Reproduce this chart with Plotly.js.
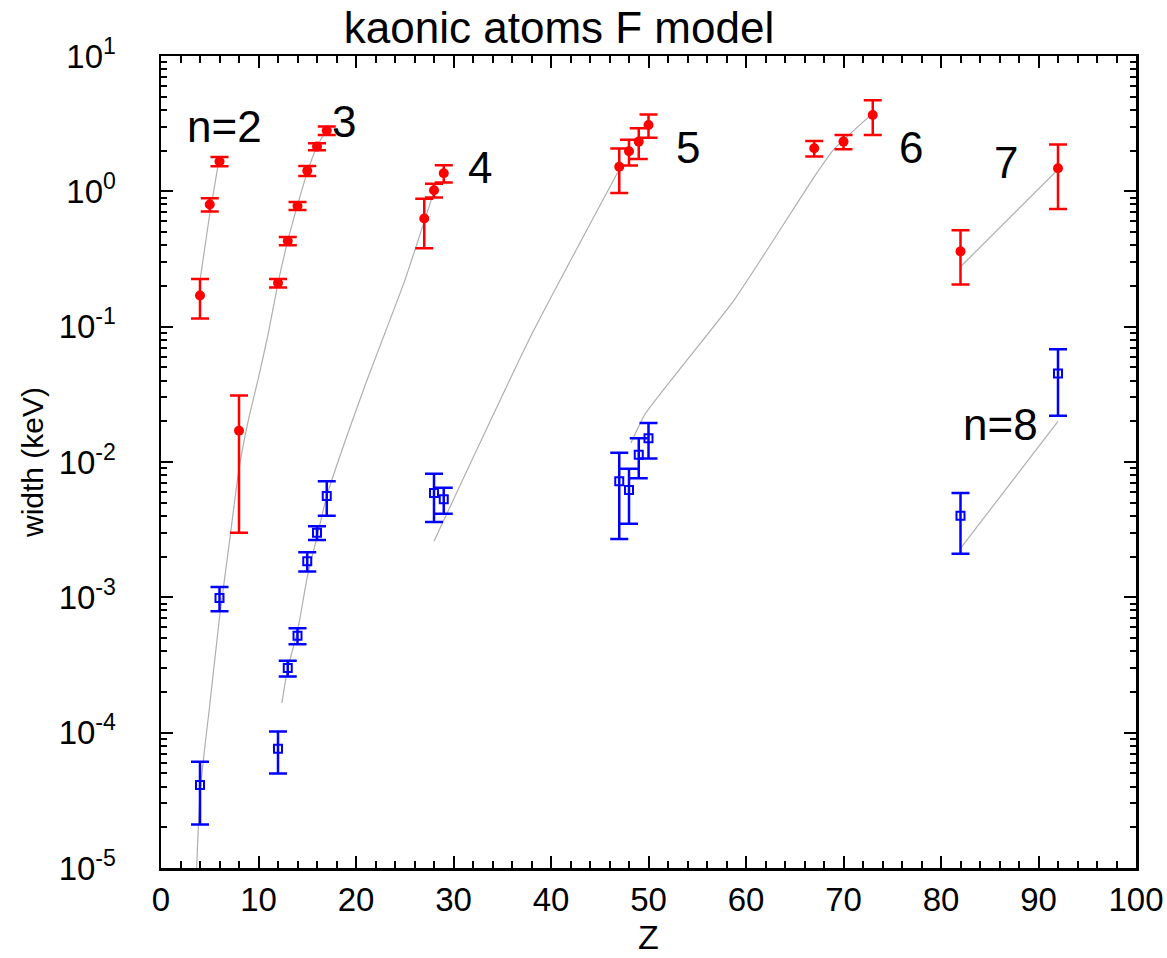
<!DOCTYPE html>
<html>
<head>
<meta charset="utf-8">
<script src="https://cdn.plot.ly/plotly-3.0.1.min.js"></script>
<style>
  html, body { margin: 0; padding: 0; background: #ffffff; }
  #chart { width: 1167px; height: 958px; }
</style>
</head>
<body>
<div id="chart"></div>
<script>
// Lower-level widths (filled red circles)
const lowerZ     = [4, 5, 6, 8, 12, 13, 14, 15, 16, 17, 27, 28, 29, 47, 48, 49, 50, 67, 70, 73, 82, 92];
const lowerWidth = [0.17, 0.80, 1.66, 0.017, 0.21, 0.43, 0.78, 1.42, 2.14, 2.81, 0.63, 1.02, 1.36, 1.52, 1.98, 2.33, 3.09, 2.08, 2.33, 3.66, 0.36, 1.48];
const lowerErr   = [0.055, 0.09, 0.13, 0.014, 0.015, 0.03, 0.053, 0.12, 0.13, 0.2, 0.25, 0.12, 0.2, 0.55, 0.43, 0.6, 0.6, 0.27, 0.28, 1.05, 0.155, 0.74];

// Upper-level widths (open blue squares)
const upperZ     = [4, 6, 12, 13, 14, 15, 16, 17, 28, 29, 47, 48, 49, 50, 82, 92];
const upperWidth = [4.1e-5, 9.9e-4, 7.6e-5, 3.0e-4, 5.2e-4, 1.85e-3, 3.0e-3, 5.6e-3, 5.9e-3, 5.3e-3, 7.2e-3, 6.2e-3, 1.13e-2, 1.5e-2, 4.0e-3, 4.5e-2];
const upperErr   = [2.0e-5, 2.0e-4, 2.6e-5, 4e-5, 7e-5, 3e-4, 3.5e-4, 1.6e-3, 2.3e-3, 1.15e-3, 4.5e-3, 2.7e-3, 3.7e-3, 4.4e-3, 1.9e-3, 2.3e-2];

// F-model widths of each level n versus Z
const modelN2Z = [4, 5, 6];
const modelN2W = [0.22, 0.68, 1.8];
const modelN3Z = [3.6, 4, 4.5, 5, 6, 7, 8, 9, 10, 11, 12, 13, 14, 15, 16, 17];
const modelN3W = [7.9e-6, 3.5e-5, 7.9e-5, 1.6e-4, 7.1e-4, 2.5e-3, 8.9e-3, 2.1e-2, 4.2e-2, 8.9e-2, 0.21, 0.43, 0.79, 1.38, 2.14, 2.88];
const modelN4Z = [12.4, 13, 14, 15, 16, 17, 19, 21, 23, 25, 27, 28];
const modelN4W = [1.66e-4, 3.0e-4, 5.6e-4, 1.41e-3, 2.8e-3, 5.6e-3, 1.51e-2, 3.8e-2, 9.1e-2, 0.219, 0.60, 1.0];
const modelN5Z = [28, 38, 47];
const modelN5W = [2.6e-3, 8.7e-2, 1.45];
const modelN6Z = [48.2, 49.7, 58.8, 67, 69, 73];
const modelN6W = [1.38e-2, 2.29e-2, 0.158, 1.28, 2.04, 3.77];
const modelN7Z = [82, 92];
const modelN7W = [0.277, 1.45];
const modelN8Z = [82, 92];
const modelN8W = [2.3e-3, 2.0e-2];

// Level labels: text, Z position, width position
const levelText = ['n=2', '3', '4', '5', '6', '7', 'n=8'];
const levelZ    = [6.5, 18.8, 32.7, 54.1, 76.9, 86.7, 86.1];
const levelW    = [3.0, 3.3, 1.5, 2.1, 2.1, 1.63, 0.019];

// Axis ticks
const xTicks     = [0, 10, 20, 30, 40, 50, 60, 70, 80, 90, 100];
const yTickVals  = [1e-5, 1e-4, 1e-3, 1e-2, 1e-1, 1, 10];
const yTickText  = ['10<sup>-5</sup>', '10<sup>-4</sup>', '10<sup>-3</sup>', '10<sup>-2</sup>',
                    '10<sup>-1</sup>', '10<sup>0</sup>', '10<sup>1</sup>'];

const FONT = 'Liberation Sans, Arial, sans-serif';
const curveLine = { color: 'rgb(175,175,175)', width: 1.2, shape: 'spline', smoothing: 0.5 };

function curve(z, w) {
  return { x: z, y: w, type: 'scatter', mode: 'lines', line: curveLine,
           hoverinfo: 'skip', showlegend: false };
}

const traces = [
  curve(modelN2Z, modelN2W),
  curve(modelN3Z, modelN3W),
  curve(modelN4Z, modelN4W),
  curve(modelN5Z, modelN5W),
  curve(modelN6Z, modelN6W),
  curve(modelN7Z, modelN7W),
  curve(modelN8Z, modelN8W),
  {
    x: upperZ, y: upperWidth, type: 'scatter', mode: 'markers', showlegend: false,
    marker: { symbol: 'square-open', size: 8, color: '#0000ff', line: { width: 2, color: '#0000ff' } },
    error_y: { type: 'data', array: upperErr, visible: true, color: '#0000ff', thickness: 2.5, width: 9 }
  },
  {
    x: lowerZ, y: lowerWidth, type: 'scatter', mode: 'markers', showlegend: false,
    marker: { symbol: 'circle', size: 10, color: '#ff0000' },
    error_y: { type: 'data', array: lowerErr, visible: true, color: '#ff0000', thickness: 2.5, width: 9 }
  }
];

const annotations = levelText.map((t, i) => ({
  text: t, x: levelZ[i], y: Math.log10(levelW[i]), xref: 'x', yref: 'y',
  showarrow: false, xanchor: 'center', yanchor: 'middle',
  font: { family: FONT, size: 44, color: '#000000' }
}));

const axisCommon = {
  showline: true, linewidth: 2.5, linecolor: '#000000', mirror: 'allticks',
  ticks: 'inside', ticklen: 12, tickwidth: 2, tickcolor: '#000000',
  showgrid: false, zeroline: false,
  tickfont: { family: FONT, size: 33, color: '#000000' }
};

const layout = {
  width: 1167, height: 958,
  margin: { l: 161, r: 31, t: 56, b: 90 },
  paper_bgcolor: '#ffffff', plot_bgcolor: '#ffffff',
  font: { family: FONT, color: '#000000' },
  title: {
    text: 'kaonic atoms F model',
    font: { family: FONT, size: 44, color: '#000000' },
    x: 559 / 1167, xanchor: 'center', xref: 'container',
    y: 1 - 28 / 958, yanchor: 'middle', yref: 'container'
  },
  xaxis: Object.assign({}, axisCommon, {
    range: [0, 100], tickmode: 'array', tickvals: xTicks,
    minor: { dtick: 2, ticks: 'inside', ticklen: 7, tickwidth: 2, tickcolor: '#000000' },
    ticklabelstandoff: 1,
    title: { text: 'Z', font: { family: FONT, size: 34, color: '#000000' }, standoff: 6 }
  }),
  yaxis: Object.assign({}, axisCommon, {
    type: 'log', range: [-5, 1], tickmode: 'array', tickvals: yTickVals, ticktext: yTickText,
    minor: { dtick: 'D1', ticks: 'inside', ticklen: 6, tickwidth: 2, tickcolor: '#000000' },
    ticklabelstandoff: 36,
    title: { text: 'width (keV)', font: { family: FONT, size: 30, color: '#000000' }, standoff: 6 }
  }),
  annotations: annotations,
  showlegend: false
};

Plotly.newPlot('chart', traces, layout, { staticPlot: true, displayModeBar: false });
</script>
</body>
</html>
